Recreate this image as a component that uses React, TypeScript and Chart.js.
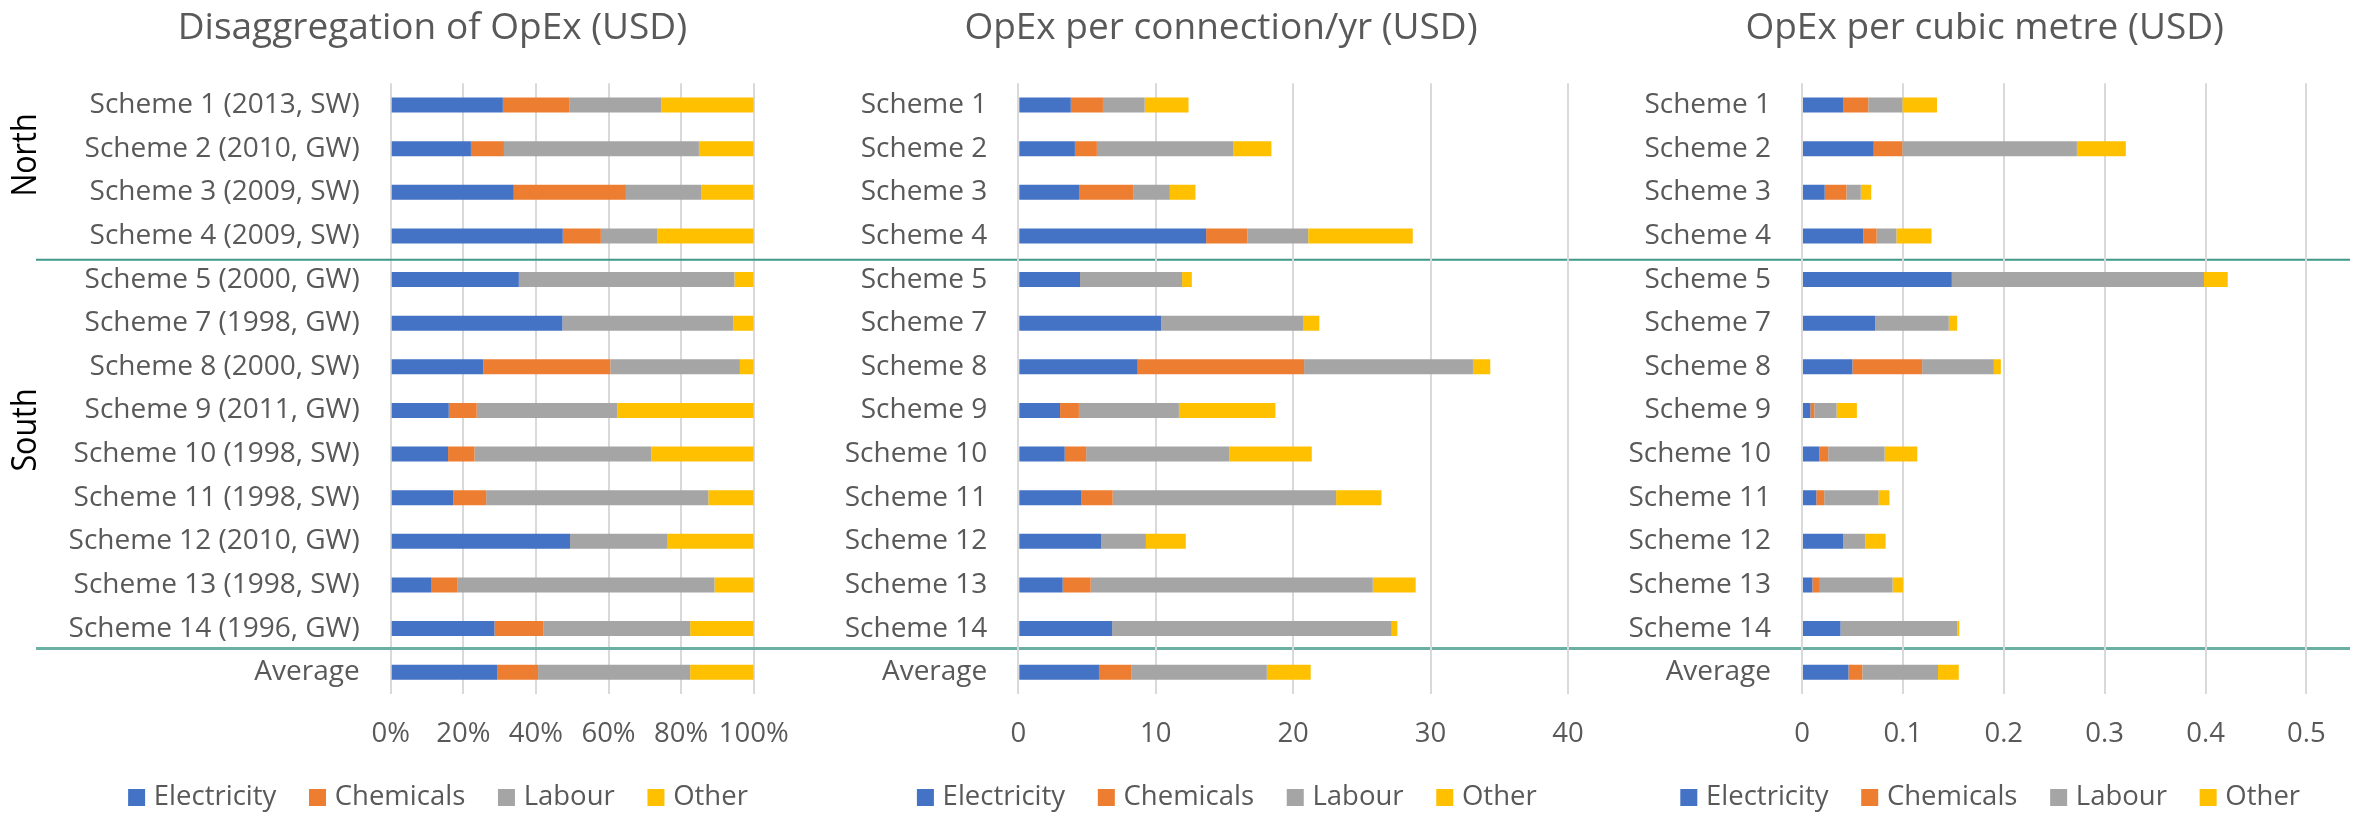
import React, { useEffect, useRef } from "react";
import { Chart, registerables } from "chart.js";

Chart.register(...registerables);

// ---------------- data ----------------
const SERIES = ["Electricity", "Chemicals", "Labour", "Other"];
const COLORS = ["#4472C4", "#ED7D31", "#A5A5A5", "#FFC000"];

const SCHEMES_LONG = [
  "Scheme 1 (2013, SW)",
  "Scheme 2 (2010, GW)",
  "Scheme 3 (2009, SW)",
  "Scheme 4 (2009, SW)",
  "Scheme 5 (2000, GW)",
  "Scheme 7 (1998, GW)",
  "Scheme 8 (2000, SW)",
  "Scheme 9 (2011, GW)",
  "Scheme 10 (1998, SW)",
  "Scheme 11 (1998, SW)",
  "Scheme 12 (2010, GW)",
  "Scheme 13 (1998, SW)",
  "Scheme 14 (1996, GW)",
  "Average",
];
const SCHEMES_SHORT = [
  "Scheme 1", "Scheme 2", "Scheme 3", "Scheme 4", "Scheme 5", "Scheme 7", "Scheme 8",
  "Scheme 9", "Scheme 10", "Scheme 11", "Scheme 12", "Scheme 13", "Scheme 14", "Average",
];

// Disaggregation of OpEx (%)
const shareElectricity = [30.9, 22.1, 33.9, 47.4, 35.3, 47.3, 25.5, 16.0, 15.8, 17.2, 49.4, 11.1, 28.6, 29.3];
const shareChemicals = [18.4, 9.1, 30.9, 10.5, 0, 0, 35.0, 7.7, 7.3, 9.1, 0, 7.2, 13.4, 11.3];
const shareLabour = [25.2, 53.7, 20.7, 15.5, 59.4, 47.1, 35.7, 38.7, 48.7, 61.2, 26.9, 70.9, 40.5, 41.9];
const shareOther = [25.5, 15.1, 14.5, 26.6, 5.3, 5.6, 3.8, 37.6, 28.2, 12.5, 23.7, 10.8, 17.5, 17.5];

// OpEx per connection / yr (USD)
const connElectricity = [3.82, 4.12, 4.42, 13.67, 4.49, 10.4, 8.69, 3.04, 3.38, 4.57, 6.02, 3.23, 6.83, 5.87];
const connChemicals = [2.34, 1.6, 3.94, 3.01, 0, 0, 12.11, 1.37, 1.56, 2.3, 0, 2.04, 0, 2.38];
const connLabour = [3.04, 9.91, 2.67, 4.42, 7.43, 10.32, 12.29, 7.28, 10.4, 16.26, 3.27, 20.53, 20.35, 9.84];
const connOther = [3.19, 2.79, 1.86, 7.61, 0.71, 1.19, 1.26, 7.02, 6.02, 3.3, 2.9, 3.12, 0.41, 3.19];

// OpEx per cubic metre (USD)
const m3Electricity = [0.0412, 0.0711, 0.0225, 0.0608, 0.1485, 0.0725, 0.05, 0.0083, 0.0172, 0.0142, 0.0407, 0.0103, 0.0382, 0.0461];
const m3Chemicals = [0.0245, 0.0284, 0.0216, 0.0132, 0, 0, 0.0691, 0.0039, 0.0088, 0.0078, 0, 0.0074, 0, 0.0137];
const m3Labour = [0.0338, 0.173, 0.0142, 0.0196, 0.25, 0.073, 0.0711, 0.0221, 0.0559, 0.0539, 0.0221, 0.0721, 0.1157, 0.075];
const m3Other = [0.0343, 0.0485, 0.0103, 0.0348, 0.0235, 0.0083, 0.0069, 0.0201, 0.0324, 0.0108, 0.0201, 0.0103, 0.002, 0.0206];

// tick values / labels
const SHARE_TICKS = [0, 20, 40, 60, 80, 100];
const CONN_TICKS = [0, 10, 20, 30, 40];
const M3_TICKS = [0, 0.1, 0.2, 0.3, 0.4, 0.5];

const TITLES = ["Disaggregation of OpEx (USD)", "OpEx per connection/yr (USD)", "OpEx per cubic metre (USD)"];
const GROUPS = ["North", "South"];

// ---------------- layout / style ----------------
const W = 2354;
const H = 815;
const FONT = "'Open Sans', 'Noto Sans', sans-serif";
const TEXT = "#595959";
const GRID = "#d9d9d9";
const PLOT_TOP = 83.3;
const PLOT_BOTTOM = 694;
const XAXIS_H = 60;

const PANELS = [
  {
    labels: SCHEMES_LONG,
    values: [shareElectricity, shareChemicals, shareLabour, shareOther],
    ticks: SHARE_TICKS,
    fmt: (v: number) => v + "%",
    plotLeft: 390.7,
    plotRight: 753.7,
    axisWidth: 360,
    title: TITLES[0],
    titleX: 432.4,
    legendX: 438,
    groups: true,
  },
  {
    labels: SCHEMES_SHORT,
    values: [connElectricity, connChemicals, connLabour, connOther],
    ticks: CONN_TICKS,
    fmt: (v: number) => String(v),
    plotLeft: 1018.3,
    plotRight: 1567.9,
    axisWidth: 200,
    title: TITLES[1],
    titleX: 1221,
    legendX: 1226.8,
    groups: false,
  },
  {
    labels: SCHEMES_SHORT,
    values: [m3Electricity, m3Chemicals, m3Labour, m3Other],
    ticks: M3_TICKS,
    fmt: (v: number) => String(Math.round(v * 10) / 10),
    plotLeft: 1802,
    plotRight: 2306.4,
    axisWidth: 200,
    title: TITLES[2],
    titleX: 1984.7,
    legendX: 1990.2,
    groups: false,
  },
];

const decorPlugin = {
  id: "decor",
  afterDraw(chart: any, _args: any, opts: any) {
    const ctx: CanvasRenderingContext2D = chart.ctx;
    ctx.save();
    // title
    ctx.fillStyle = TEXT;
    ctx.font = `37px ${FONT}`;
    ctx.textAlign = "center";
    ctx.textBaseline = "alphabetic";
    ctx.fillText(opts.title, opts.titleX, 38.5);

    // legend
    ctx.font = `27.5px ${FONT}`;
    const items = chart.data.datasets.map((ds: any) => ({
      label: ds.label,
      color: ds.backgroundColor,
      w: ctx.measureText(ds.label).width,
    }));
    const box = 17;
    const gap = 8.7;
    const sep = 32.7;
    const total =
      items.reduce((s: number, it: any) => s + box + gap + it.w, 0) + sep * (items.length - 1);
    let x = opts.legendX - total / 2;
    const ly = 797.5;
    ctx.textAlign = "left";
    ctx.textBaseline = "middle";
    items.forEach((it: any) => {
      ctx.fillStyle = it.color;
      ctx.fillRect(x, ly - box / 2, box, box);
      x += box + gap;
      ctx.fillStyle = TEXT;
      ctx.fillText(it.label, x, ly);
      x += it.w + sep;
    });

    if (opts.groups) {
      const ys = chart.scales.y;
      const b1 = (ys.getPixelForValue(3) + ys.getPixelForValue(4)) / 2 + 2;
      const b2 = (ys.getPixelForValue(12) + ys.getPixelForValue(13)) / 2 - 2;
      ctx.strokeStyle = "#3f988b";
      ctx.lineWidth = 2;
      ctx.beginPath();
      ctx.moveTo(36, b1);
      ctx.lineTo(2350, b1);
      ctx.stroke();
      ctx.strokeStyle = "#6cafa4";
      ctx.lineWidth = 3;
      ctx.beginPath();
      ctx.moveTo(36, b2);
      ctx.lineTo(2350, b2);
      ctx.stroke();

      const groupPos = [1.144, 7.448];
      ctx.fillStyle = "#000";
      ctx.font = `35px ${FONT}`;
      ctx.textAlign = "center";
      ctx.textBaseline = "middle";
      GROUPS.forEach((g, i) => {
        const y = ys.getPixelForValue(groupPos[i]);
        ctx.save();
        ctx.translate(26.4, y);
        ctx.rotate(-Math.PI / 2);
        ctx.scale(0.87, 1);
        ctx.fillText(g, 0, 0);
        ctx.restore();
      });
    }
    ctx.restore();
  },
};

function makeConfig(p: any): any {
  return {
    type: "bar",
    data: {
      labels: p.labels,
      datasets: SERIES.map((name, k) => ({
        label: name,
        data: p.values[k],
        backgroundColor: COLORS[k],
        borderWidth: 0,
        barPercentage: 0.344,
        categoryPercentage: 1,
      })),
    },
    options: {
      indexAxis: "y",
      responsive: false,
      animation: false,
      devicePixelRatio: 1,
      layout: {
        padding: {
          left: p.plotLeft - p.axisWidth,
          right: W - p.plotRight,
          top: PLOT_TOP,
          bottom: H - PLOT_BOTTOM - XAXIS_H,
        },
      },
      plugins: {
        legend: { display: false },
        title: { display: false },
        tooltip: { enabled: false },
        decor: { title: p.title, titleX: p.titleX, legendX: p.legendX, groups: p.groups },
      },
      scales: {
        x: {
          type: "linear",
          stacked: true,
          min: p.ticks[0],
          max: p.ticks[p.ticks.length - 1],
          afterBuildTicks: (s: any) => {
            s.ticks = p.ticks.map((v: number) => ({ value: v }));
          },
          ticks: {
            padding: 23.5,
            font: { size: 27.5, family: FONT },
            color: TEXT,
            maxRotation: 0,
            autoSkip: false,
            callback: (v: any) => p.fmt(Number(v)),
          },
          grid: { color: GRID, lineWidth: 2, drawTicks: false },
          border: { display: false },
          afterFit: (s: any) => {
            s.height = XAXIS_H;
            s.paddingLeft = 0;
            s.paddingRight = 0;
          },
        },
        y: {
          type: "category",
          stacked: true,
          ticks: {
            padding: 31,
            font: { size: 28, family: FONT },
            color: TEXT,
            autoSkip: false,
          },
          grid: { display: false, drawTicks: false },
          border: { display: false },
          afterFit: (s: any) => {
            s.width = p.axisWidth;
            s.paddingTop = 0;
            s.paddingBottom = 0;
          },
        },
      },
    },
    plugins: [decorPlugin],
  };
}

export default function App() {
  const r0 = useRef<HTMLCanvasElement>(null);
  const r1 = useRef<HTMLCanvasElement>(null);
  const r2 = useRef<HTMLCanvasElement>(null);
  const refs = [r0, r1, r2];

  useEffect(() => {
    const charts: Chart[] = [];
    PANELS.forEach((p, i) => {
      const c = refs[i].current;
      if (c) charts.push(new Chart(c, makeConfig(p)));
    });
    return () => {
      charts.forEach((c) => c.destroy());
    };
  }, []);

  return (
    <div
      style={{
        position: "fixed",
        left: 0,
        top: 0,
        width: W,
        height: H,
        background: "#fff",
        overflow: "hidden",
      }}
    >
      {refs.map((r, i) => (
        <canvas
          key={i}
          ref={r}
          width={W}
          height={H}
          style={{ position: "absolute", left: 0, top: 0, width: W, height: H }}
        />
      ))}
    </div>
  );
}
